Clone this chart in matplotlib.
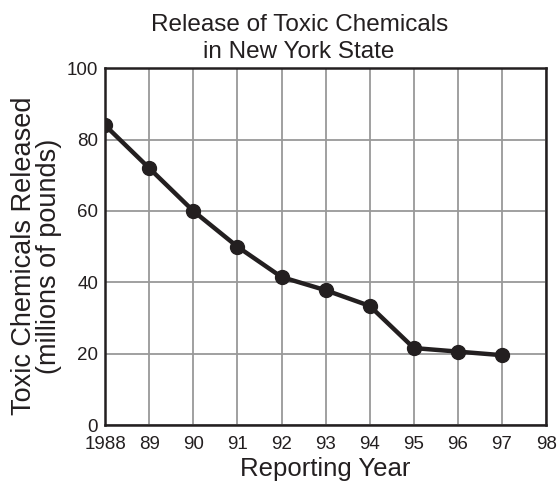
import matplotlib
matplotlib.use("Agg")
import matplotlib.pyplot as plt

plt.rcParams['font.family'] = ['Liberation Sans', 'DejaVu Sans']

years = [1988, 1989, 1990, 1991, 1992, 1993, 1994, 1995, 1996, 1997]
released = [84, 72, 60, 50, 41.5, 37.8, 33.4, 21.6, 20.6, 19.6]
xticks = list(range(1988, 1999))
xtick_labels = ["1988", "89", "90", "91", "92", "93", "94", "95", "96", "97", "98"]
yticks = [0, 20, 40, 60, 80, 100]

fig = plt.figure(figsize=(5.59, 4.87), dpi=100)
ax = fig.add_axes([0.188, 0.127, 0.789, 0.733])

ax.plot(years, released, color="#231f20", lw=3.2, marker="o", ms=10, zorder=3)

ax.set_xlim(1988, 1998)
ax.set_ylim(0, 100)
ax.set_xticks(xticks)
ax.set_xticklabels(xtick_labels)
ax.set_yticks(yticks)
ax.tick_params(length=0, labelsize=13.5, colors="#231f20")
ax.tick_params(axis="x", pad=8)
ax.tick_params(axis="y", pad=5)
ax.grid(True, color="#999999", lw=1.3)
ax.set_axisbelow(True)
for s in ax.spines.values():
    s.set_linewidth(1.8)
    s.set_color("#231f20")

ax.set_title("Release of Toxic Chemicals\nin New York State", fontsize=17.5,
             linespacing=1.3, pad=7, x=0.44, color="#231f20")
ax.set_xlabel("Reporting Year", fontsize=18.5, labelpad=3, color="#231f20")
ax.set_ylabel("Toxic Chemicals Released\n(millions of pounds)", fontsize=19.5,
              linespacing=0.92, color="#231f20")
ax.yaxis.set_label_coords(-0.098, 0.474)

fig.savefig("out.png", dpi=100)
